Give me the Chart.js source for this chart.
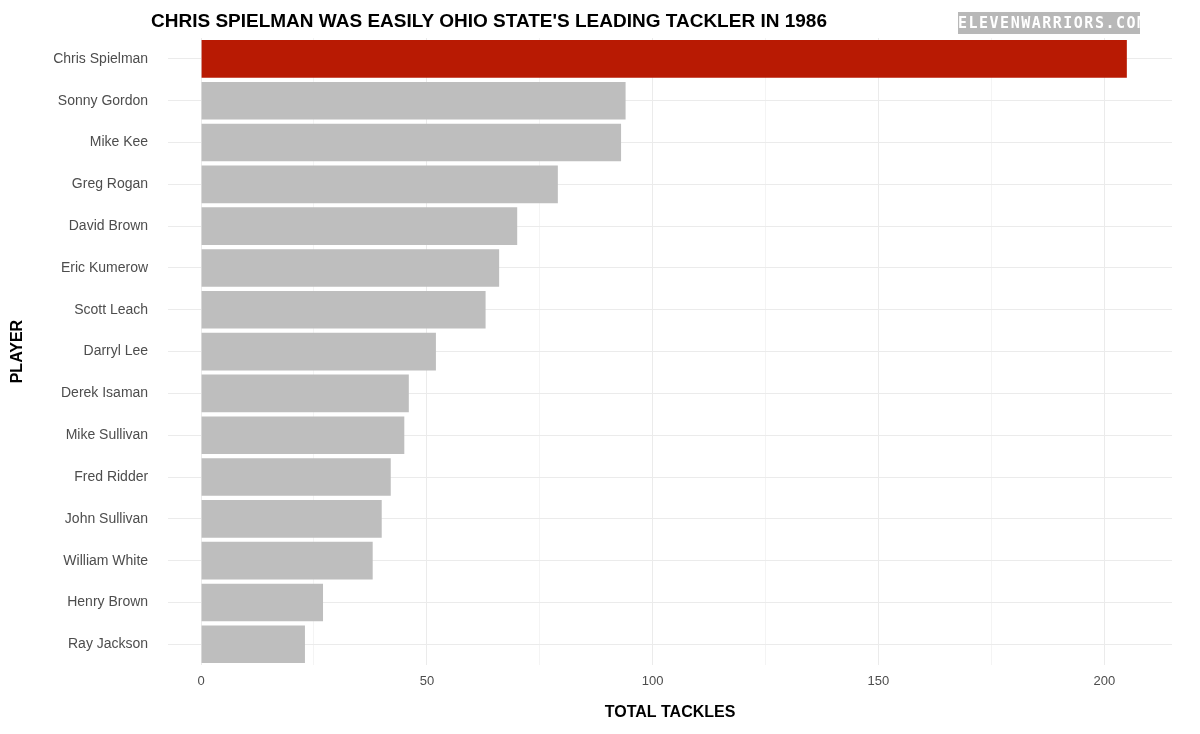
<!DOCTYPE html>
<html>
<head>
<meta charset="utf-8">
<script src="https://cdn.jsdelivr.net/npm/chart.js@4"></script>
<style>
  body { margin: 0; background: #fff; font-family: 'Liberation Sans', Arial, sans-serif; }
  #wrap { position: relative; width: 1200px; height: 734px; }
  #title { position: absolute; left: 151px; top: 10px; font-size: 19px; font-weight: bold; color: #000; }
  #logo { position: absolute; left: 958px; top: 12px; width: 182px; height: 22px; background: #b8b8b8;
          color: #fff; font-family: 'DejaVu Sans Mono', monospace; font-weight: bold; font-size: 15px;
          letter-spacing: 1.5px; text-align: center; line-height: 22px; }
</style>
</head>
<body>
<div id="wrap">
  <canvas id="chart" width="1200" height="734"></canvas>
  <div id="title">CHRIS SPIELMAN WAS EASILY OHIO STATE'S LEADING TACKLER IN 1986</div>
  <div id="logo">ELEVENWARRIORS.COM</div>
</div>
<script>
// --- DATA ---
const players = ['Chris Spielman', 'Sonny Gordon', 'Mike Kee', 'Greg Rogan', 'David Brown', 'Eric Kumerow',
    'Scott Leach', 'Darryl Lee', 'Derek Isaman', 'Mike Sullivan', 'Fred Ridder', 'John Sullivan',
    'William White', 'Henry Brown', 'Ray Jackson'];
const tackles = [205, 94, 93, 79, 70, 66, 63, 52, 46, 45, 42, 40, 38, 27, 23];
const xTicks = [0, 25, 50, 75, 100, 125, 150, 175, 200];

const barColors = players.map((p, i) => i === 0 ? '#b81a03' : '#bebebe');

new Chart(document.getElementById('chart'), {
    type: 'bar',
    data: { labels: players, datasets: [{ data: tackles, backgroundColor: barColors, barPercentage: 0.9, categoryPercentage: 1 }] },
    options: {
        indexAxis: 'y',
        responsive: false,
        animation: false,
        layout: { padding: { top: 38, right: 28, bottom: 8, left: 4 } },
        plugins: { legend: { display: false }, tooltip: { enabled: false } },
        scales: {
            x: {
                min: -7.3, max: 215,
                afterBuildTicks: axis => { axis.ticks = xTicks.map(v => ({ value: v })); },
                ticks: { color: '#4d4d4d', font: { size: 13, family: 'Liberation Sans' }, padding: 8,
                         callback: v => v % 50 === 0 ? v : '' },
                grid: { color: ctx => (ctx.tick && ctx.tick.value % 50 === 0) ? '#ebebeb' : '#f4f4f4', drawTicks: false, lineWidth: 1 },
                border: { display: false },
                title: { display: true, text: 'TOTAL TACKLES', color: '#000', font: { size: 16, weight: 'bold', family: 'Liberation Sans' }, padding: { top: 6 } }
            },
            y: {
                ticks: { color: '#4d4d4d', font: { size: 14, family: 'Liberation Sans' }, padding: 20 },
                grid: { color: '#ebebeb', drawTicks: false, offset: false },
                border: { display: false },
                title: { display: true, text: 'PLAYER', color: '#000', font: { size: 16, weight: 'bold', family: 'Liberation Sans' }, padding: { bottom: 6 } }
            }
        }
    }
});
</script>
</body>
</html>
